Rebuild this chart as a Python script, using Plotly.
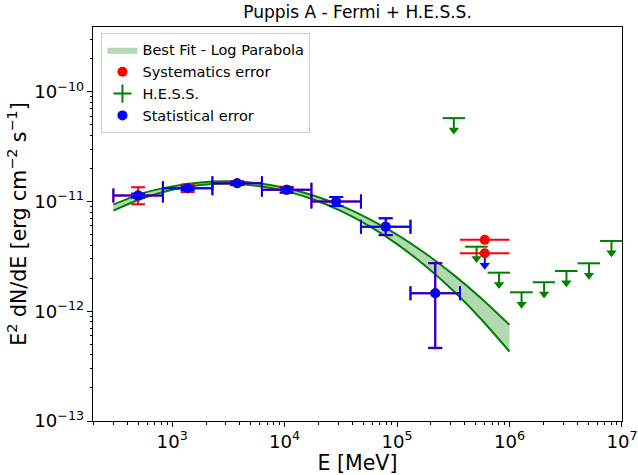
import plotly.graph_objects as go

# ---------------- data ----------------
# Fermi-LAT spectral points (E in MeV, E^2 dN/dE in erg cm^-2 s^-1)
fermi_E = [498, 1373, 3784, 10433, 28760, 79290, 218600]
fermi_E_lo = [300, 827, 2279, 6283, 17322, 47753, 131640]
fermi_E_hi = [827, 2279, 6283, 17322, 47753, 131640, 362900]
fermi_flux = [1.135e-11, 1.325e-11, 1.47e-11, 1.28e-11, 1.0e-11, 5.91e-12, 1.46e-12]
stat_up = [0.05e-11, 0.05e-11, 0.05e-11, 0.06e-11, 0.10e-11, 1.13e-12, 1.28e-12]
stat_dn = [0.05e-11, 0.05e-11, 0.05e-11, 0.06e-11, 0.09e-11, 0.95e-12, 0.994e-12]
sys_up = [0.22e-11, 0.11e-11, 0.06e-11, 0.09e-11, 0.10e-11, 1.15e-12, 1.30e-12]
sys_dn = [0.19e-11, 0.10e-11, 0.06e-11, 0.08e-11, 0.09e-11, 0.97e-12, 1.0e-12]

# last Fermi bin: upper limits
ul_E = [602400, 602400]
ul_E_lo = [362900, 362900]
ul_E_hi = [1000000, 1000000]
ul_sys = [4.48e-12, 3.38e-12]
ul_stat_E = [602400]
ul_stat = [3.38e-12]

# H.E.S.S. upper limits
hess_E = [3.2e5, 5.09e5, 8.07e5, 1.28e6, 2.03e6, 3.21e6, 5.09e6, 8.07e6]
hess_E_lo = [2.54e5, 4.03e5, 6.39e5, 1.01e6, 1.61e6, 2.54e6, 4.03e6, 6.39e6]
hess_E_hi = [4.03e5, 6.39e5, 1.01e6, 1.61e6, 2.54e6, 4.03e6, 6.39e6, 1.0e7]
hess_ul = [5.77e-11, 3.88e-12, 2.25e-12, 1.49e-12, 1.84e-12, 2.33e-12, 2.74e-12, 4.38e-12]

# Log-parabola best-fit band
band_E = [300, 562, 1000, 1778, 3162, 5623, 10000, 17783, 31623, 56234,
          100000, 177828, 316228, 562341, 1000000]
band_hi = [9.38e-12, 1.202e-11, 1.377e-11, 1.496e-11, 1.531e-11, 1.476e-11, 1.337e-11,
           1.143e-11, 9.18e-12, 6.97e-12, 5.00e-12, 3.38e-12, 2.16e-12, 1.312e-12, 7.53e-13]
band_lo = [8.28e-12, 1.086e-11, 1.285e-11, 1.416e-11, 1.455e-11, 1.396e-11, 1.253e-11,
           1.052e-11, 8.22e-12, 6.01e-12, 4.10e-12, 2.60e-12, 1.54e-12, 8.43e-13, 4.30e-13]

UL_FRAC = 0.22  # length of the upper-limit arrow shaft, as a fraction of the value

GREEN = "#008000"
RED = "#ff0000"
BLUE = "#0000ff"
FILL = "rgba(0,128,0,0.3)"


def minus(c, lo):
    return [a - b for a, b in zip(c, lo)]


def plus(c, hi):
    return [b - a for a, b in zip(c, hi)]


def ul_arrow(E, vals, color):
    """Upper-limit arrow: shaft drawn as a downward error bar, head as a triangle marker."""
    shaft = go.Scatter(
        x=E, y=vals, mode="markers", marker=dict(size=1, color="rgba(0,0,0,0)"),
        error_y=dict(type="data", symmetric=False, array=[0] * len(vals),
                     arrayminus=[v * UL_FRAC for v in vals], color=color,
                     thickness=2, width=0),
        showlegend=False, hoverinfo="skip")
    head = go.Scatter(
        x=E, y=[v * (1 - UL_FRAC) for v in vals], mode="markers",
        marker=dict(symbol="triangle-down", size=9, color=color, line=dict(width=0)),
        showlegend=False, hoverinfo="skip")
    return [shaft, head]


fig = go.Figure()

# band fill
fig.add_trace(go.Scatter(x=band_E, y=band_hi, mode="lines", line=dict(width=0, shape="spline"),
                         showlegend=False, hoverinfo="skip"))
fig.add_trace(go.Scatter(x=band_E, y=band_lo, mode="lines", line=dict(width=0, shape="spline"),
                         fill="tonexty", fillcolor=FILL, showlegend=False, hoverinfo="skip"))
# band edges
for yy in (band_hi, band_lo):
    fig.add_trace(go.Scatter(x=band_E, y=yy, mode="lines",
                             line=dict(color=GREEN, width=2, shape="spline"),
                             showlegend=False, hoverinfo="skip"))
# legend entry for the band
fig.add_trace(go.Scatter(x=[None], y=[None], mode="lines", line=dict(width=0),
                         fill="toself", fillcolor=FILL, name="Best Fit - Log Parabola",
                         legendrank=1))

# H.E.S.S. horizontal bars + arrows
fig.add_trace(go.Scatter(
    x=hess_E, y=hess_ul, mode="markers",
    marker=dict(size=1, color="rgba(0,0,0,0)"),
    error_x=dict(type="data", symmetric=False, array=plus(hess_E, hess_E_hi),
                 arrayminus=minus(hess_E, hess_E_lo), color=GREEN, thickness=2, width=0),
    showlegend=False, hoverinfo="skip"))
for t in ul_arrow(hess_E, hess_ul, GREEN):
    fig.add_trace(t)

# legend entry for H.E.S.S.
fig.add_trace(go.Scatter(x=[None], y=[None], mode="markers", name="H.E.S.S.",
                         marker=dict(symbol="cross-thin", size=13, color=GREEN,
                                     line=dict(color=GREEN, width=2)),
                         legendrank=3))

# systematics error (red) under statistical
fig.add_trace(go.Scatter(
    x=fermi_E, y=fermi_flux, mode="markers", name="Systematics error",
    marker=dict(size=10, color=RED),
    error_x=dict(type="data", symmetric=False, array=plus(fermi_E, fermi_E_hi),
                 arrayminus=minus(fermi_E, fermi_E_lo), color=RED, thickness=2, width=7),
    error_y=dict(type="data", symmetric=False, array=sys_up, arrayminus=sys_dn,
                 color=RED, thickness=2, width=7),
    legendrank=2))

# statistical error (blue)
fig.add_trace(go.Scatter(
    x=fermi_E, y=fermi_flux, mode="markers", name="Statistical error",
    marker=dict(size=10, color=BLUE),
    error_x=dict(type="data", symmetric=False, array=plus(fermi_E, fermi_E_hi),
                 arrayminus=minus(fermi_E, fermi_E_lo), color=BLUE, thickness=2, width=7),
    error_y=dict(type="data", symmetric=False, array=stat_up, arrayminus=stat_dn,
                 color=BLUE, thickness=2, width=7),
    legendrank=4))

# last-bin statistical upper limit (blue arrow)
for t in ul_arrow(ul_stat_E, ul_stat, BLUE):
    fig.add_trace(t)

# last-bin points (red, on top)
fig.add_trace(go.Scatter(
    x=ul_E, y=ul_sys, mode="markers", marker=dict(size=10, color=RED),
    error_x=dict(type="data", symmetric=False, array=plus(ul_E, ul_E_hi),
                 arrayminus=minus(ul_E, ul_E_lo), color=RED, thickness=2, width=0),
    showlegend=False))

axis_common = dict(type="log", dtick=1, exponentformat="power", showline=True,
                   linecolor="black", linewidth=1, mirror=True, ticks="outside",
                   ticklen=5, tickwidth=1, tickcolor="black", showgrid=False,
                   zeroline=False, tickfont=dict(size=14.5), automargin=False,
                   minor=dict(ticks="outside", ticklen=2.5, tickwidth=0.8, dtick="D1",
                              tickcolor="black", showgrid=False))

fig.update_layout(
    width=638, height=475,
    margin=dict(l=93.3, r=16, t=27.3, b=54),
    plot_bgcolor="white", paper_bgcolor="white",
    font=dict(family="DejaVu Sans", color="black", size=14),
    title=dict(text="Puppis A - Fermi + H.E.S.S.", x=0.5, xref="paper", y=1 - 12.5 / 475,
               yanchor="middle", xanchor="center", font=dict(size=17)),
    xaxis=dict(axis_common, range=[2.296, 7.0005],
               title=dict(text="E [MeV]", font=dict(size=20.5), standoff=2)),
    yaxis=dict(axis_common, range=[-13, -9.408],
               title=dict(text="E<sup>2</sup> dN/dE [erg cm<sup>−2</sup> s<sup>−1</sup>]",
                          font=dict(size=20.5), standoff=2)),
    legend=dict(x=0.016, y=0.985, xanchor="left", yanchor="top",
                bgcolor="rgba(255,255,255,0.8)", bordercolor="#cccccc", borderwidth=1,
                font=dict(size=14.5), traceorder="normal", tracegroupgap=0),
    showlegend=True,
)

fig.write_html("out.html")
